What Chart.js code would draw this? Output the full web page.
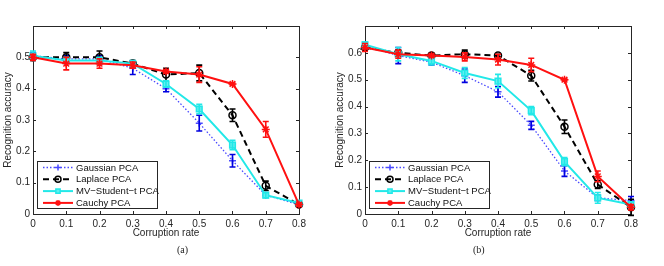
<!DOCTYPE html>
<html>
<head>
<meta charset="utf-8">
<script src="https://cdn.jsdelivr.net/npm/chart.js@4.4.0/dist/chart.umd.min.js"></script>
<style>
  body { margin: 0; background: #fff; }
  #wrap { position: relative; width: 664px; height: 266px; }
  .panel { position: absolute; top: 0; width: 332px; height: 266px; }
  .cap { position: absolute; top: 244px; font: 10px "Liberation Serif", serif; color: #222; }
</style>
</head>
<body>
<div id="wrap">
  <div class="panel" style="left:0"><canvas id="chartA" width="332" height="266"></canvas></div>
  <div class="panel" style="left:332px"><canvas id="chartB" width="332" height="266"></canvas></div>
  <div class="cap" style="left:177px">(a)</div>
  <div class="cap" style="left:473px">(b)</div>
</div>
<script>
// corruption rates (x axis)
const rates = [0, 0.1, 0.2, 0.3, 0.4, 0.5, 0.6, 0.7, 0.8];
const seriesNames = ['Gaussian PCA', 'Laplace PCA', 'MV\u2212Student\u2212t PCA', 'Cauchy PCA'];

// panel (a)
const gaussA    = [0.505, 0.495, 0.495, 0.465, 0.400, 0.290, 0.170, 0.060, 0.030];
const gaussErrA = [0.010, 0.010, 0.010, 0.020, 0.010, 0.025, 0.020, 0.005, 0.005];
const laplA     = [0.500, 0.500, 0.500, 0.480, 0.445, 0.450, 0.315, 0.090, 0.030];
const laplErrA  = [0.010, 0.015, 0.020, 0.010, 0.020, 0.025, 0.020, 0.015, 0.005];
const mvtA      = [0.505, 0.490, 0.490, 0.480, 0.415, 0.335, 0.220, 0.060, 0.035];
const mvtErrA   = [0.015, 0.010, 0.010, 0.010, 0.010, 0.015, 0.015, 0.008, 0.005];
const cauchyA   = [0.500, 0.480, 0.480, 0.475, 0.455, 0.445, 0.415, 0.270, 0.030];
const cauchyErrA= [0.010, 0.020, 0.015, 0.010, 0.005, 0.025, 0.003, 0.025, 0.005];

// panel (b)
const gaussB    = [0.625, 0.590, 0.565, 0.515, 0.455, 0.330, 0.160, 0.060, 0.050];
const gaussErrB = [0.010, 0.030, 0.010, 0.025, 0.020, 0.015, 0.020, 0.010, 0.015];
const laplB     = [0.620, 0.600, 0.590, 0.595, 0.590, 0.515, 0.325, 0.110, 0.025];
const laplErrB  = [0.010, 0.010, 0.008, 0.015, 0.005, 0.020, 0.025, 0.015, 0.030];
const mvtB      = [0.630, 0.595, 0.570, 0.525, 0.495, 0.385, 0.195, 0.060, 0.035];
const mvtErrB   = [0.010, 0.025, 0.015, 0.020, 0.025, 0.015, 0.015, 0.020, 0.010];
const cauchyB   = [0.620, 0.595, 0.590, 0.585, 0.575, 0.555, 0.500, 0.140, 0.025];
const cauchyErrB= [0.015, 0.015, 0.005, 0.015, 0.020, 0.025, 0.003, 0.020, 0.010];

const xTicks = [0, 0.1, 0.2, 0.3, 0.4, 0.5, 0.6, 0.7, 0.8];
const yTicksA = [0, 0.1, 0.2, 0.3, 0.4, 0.5];
const yTicksB = [0, 0.1, 0.2, 0.3, 0.4, 0.5, 0.6];

const FONT = '"Liberation Sans", Arial, sans-serif';
const AXIS = '#262626';

const styles = [
  { color: '#4a4aff', err: '#0000e0', width: 1.3, dash: [1.5, 2], point: 'cross', radius: 3.5, fill: '#4a4aff' },
  { color: '#000000', err: '#000000', width: 2, dash: [6, 4], point: 'circle', radius: 3.5, fill: 'rgba(0,0,0,0)' },
  { color: '#22e8e8', err: '#22e8e8', width: 2, dash: [], point: 'rect', radius: 4, fill: '#5ff0f0' },
  { color: '#ff1010', err: '#ff1010', width: 2, dash: [], point: 'star', radius: 4, fill: '#ff1010' }
];

function pts(vals) {
  return rates.map(function(r, i) { return { x: r, y: vals[i] }; });
}

// error bars, drawn right after each dataset
const errorBars = {
  id: 'errorBars',
  afterDatasetDraw(chart, args) {
    const ds = chart.data.datasets[args.index];
    if (!ds.errors) return;
    const ys = chart.scales.y;
    const ctx = chart.ctx;
    ctx.save();
    ctx.strokeStyle = ds.errColor;
    ctx.lineWidth = 1.6;
    ctx.setLineDash([]);
    args.meta.data.forEach(function(p, i) {
      const v = ds.data[i].y, e = ds.errors[i];
      const t = ys.getPixelForValue(v + e), b = ys.getPixelForValue(v - e);
      ctx.beginPath();
      ctx.moveTo(p.x, t); ctx.lineTo(p.x, b);
      ctx.moveTo(p.x - 3, t); ctx.lineTo(p.x + 3, t);
      ctx.moveTo(p.x - 3, b); ctx.lineTo(p.x + 3, b);
      ctx.stroke();
    });
    ctx.restore();
  }
};

// matlab style box with inward ticks + legend
const boxAndLegend = {
  id: 'boxAndLegend',
  beforeDatasetsDraw(chart) {
    const a = chart.chartArea, ctx = chart.ctx;
    ctx.save();
    ctx.strokeStyle = AXIS;
    ctx.lineWidth = 1;
    ctx.strokeRect(a.left + 0.5, a.top + 0.5, a.right - a.left, a.bottom - a.top);
    ctx.beginPath();
    chart.scales.x.ticks.forEach(function(t) {
      const x = Math.round(chart.scales.x.getPixelForValue(t.value)) + 0.5;
      ctx.moveTo(x, a.bottom); ctx.lineTo(x, a.bottom - 3);
      ctx.moveTo(x, a.top); ctx.lineTo(x, a.top + 3);
    });
    chart.scales.y.ticks.forEach(function(t) {
      const y = Math.round(chart.scales.y.getPixelForValue(t.value)) + 0.5;
      ctx.moveTo(a.left, y); ctx.lineTo(a.left + 3, y);
      ctx.moveTo(a.right, y); ctx.lineTo(a.right - 3, y);
    });
    ctx.stroke();
    ctx.restore();
  },
  afterDraw(chart) {
    const a = chart.chartArea, ctx = chart.ctx;
    const bx = a.left + 4, by = a.bottom - 53, bw = 120, bh = 47;
    ctx.save();
    ctx.fillStyle = '#fff';
    ctx.fillRect(bx, by, bw, bh);
    ctx.strokeStyle = AXIS;
    ctx.lineWidth = 1;
    ctx.strokeRect(bx + 0.5, by + 0.5, bw, bh);
    ctx.font = '9.5px ' + FONT;
    ctx.textBaseline = 'middle';
    chart.data.datasets.forEach(function(ds, i) {
      const st = styles[i];
      const y = by + 6.5 + i * 11.8;
      ctx.strokeStyle = st.color;
      ctx.lineWidth = st.width;
      ctx.setLineDash(st.dash);
      ctx.beginPath();
      ctx.moveTo(bx + 6, y); ctx.lineTo(bx + 36, y);
      ctx.stroke();
      ctx.setLineDash([]);
      ctx.lineWidth = 1.5;
      ctx.fillStyle = st.fill;
      Chart.helpers.drawPoint(ctx, { pointStyle: st.point, radius: 3, borderWidth: 1.5 }, bx + 21, y);
      ctx.fillStyle = '#111';
      ctx.fillText(ds.label, bx + 39, y + 0.5);
    });
    ctx.restore();
  }
};

function makeChart(id, series, errs, yMax, yTicks) {
  const datasets = series.map(function(vals, i) {
    const st = styles[i];
    return {
      label: seriesNames[i],
      data: pts(vals),
      errors: errs[i],
      errColor: st.err,
      borderColor: st.color,
      borderWidth: st.width,
      borderDash: st.dash,
      pointStyle: st.point,
      pointRadius: st.radius,
      pointBorderColor: st.color,
      pointBackgroundColor: st.fill,
      pointBorderWidth: 1.5,
      tension: 0,
      clip: false,
      order: 3 - i
    };
  });
  return new Chart(document.getElementById(id), {
    type: 'line',
    data: { datasets: datasets },
    plugins: [errorBars, boxAndLegend],
    options: {
      responsive: false,
      animation: false,
      layout: { padding: { top: 26, right: 33, left: 0, bottom: 26.5 } },
      plugins: { legend: { display: false }, tooltip: { enabled: false } },
      scales: {
        x: {
          type: 'linear', min: 0, max: 0.8,
          afterBuildTicks: function(s) { s.ticks = xTicks.map(function(v) { return { value: v }; }); },
          grid: { display: false, drawTicks: false },
          border: { display: false },
          ticks: {
            font: { family: FONT, size: 10 }, color: AXIS, padding: 4, maxRotation: 0,
            callback: function(v) { return v === 0 ? '0' : v.toFixed(1); }
          },
          title: { display: true, text: 'Corruption rate', font: { family: FONT, size: 10 }, color: AXIS, padding: { top: -6.5, bottom: 0 } }
        },
        y: {
          min: 0, max: yMax,
          afterBuildTicks: function(s) { s.ticks = yTicks.map(function(v) { return { value: v }; }); },
          afterFit: function(s) { s.width = 33; },
          grid: { display: false, drawTicks: false },
          border: { display: false },
          ticks: {
            font: { family: FONT, size: 10 }, color: AXIS, padding: 3,
            callback: function(v) { return v === 0 ? '0' : v.toFixed(1); }
          },
          title: { display: true, text: 'Recognition accuracy', font: { family: FONT, size: 10 }, color: AXIS, padding: { top: 2, bottom: 0 } }
        }
      }
    }
  });
}

makeChart('chartA', [gaussA, laplA, mvtA, cauchyA], [gaussErrA, laplErrA, mvtErrA, cauchyErrA], 0.6, yTicksA);
makeChart('chartB', [gaussB, laplB, mvtB, cauchyB], [gaussErrB, laplErrB, mvtErrB, cauchyErrB], 0.7, yTicksB);
</script>
</body>
</html>
